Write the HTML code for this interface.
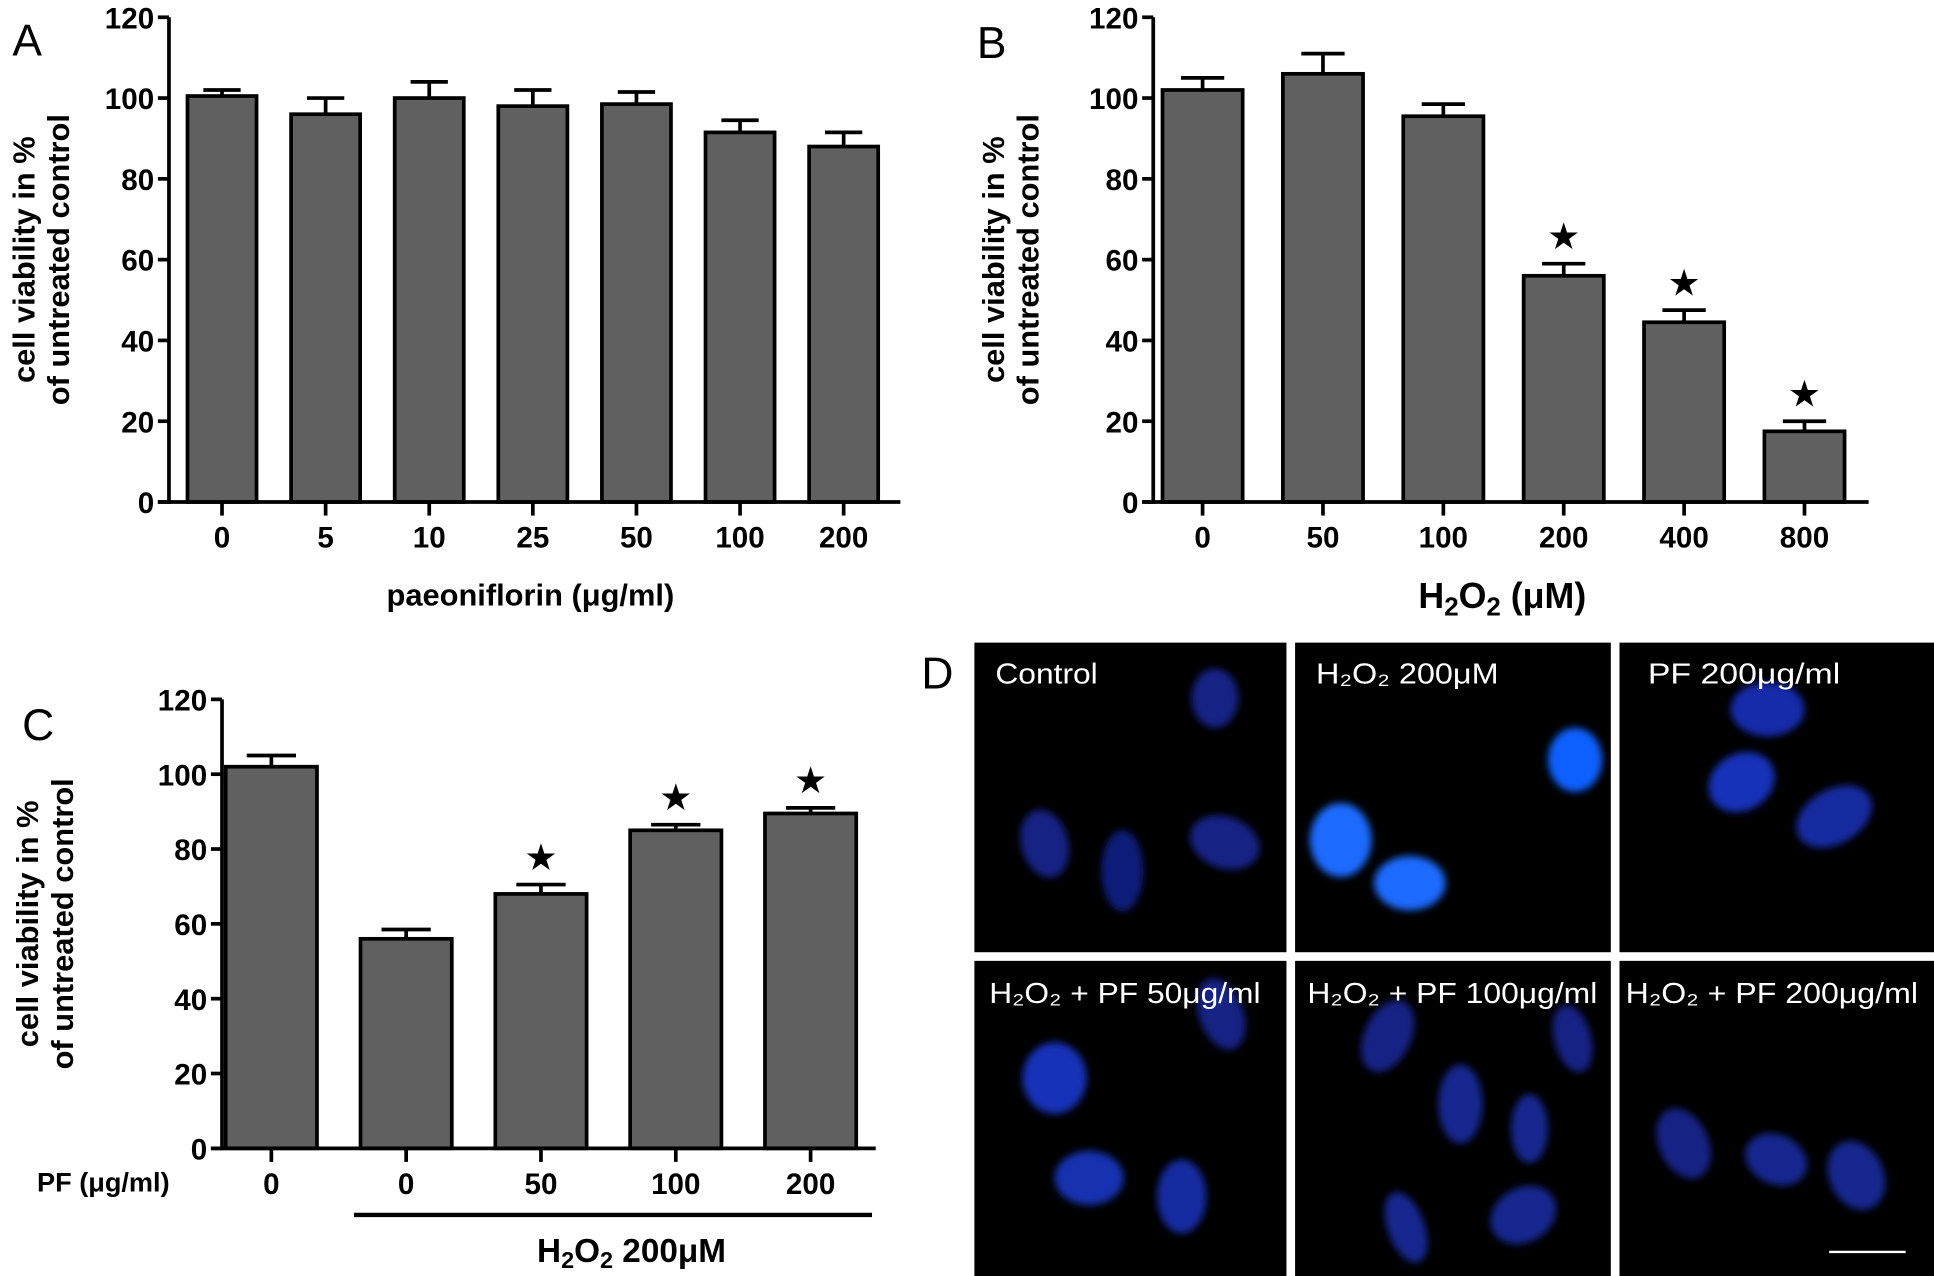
<!DOCTYPE html>
<html><head><meta charset="utf-8"><style>
html,body{margin:0;padding:0;background:#fff;}
svg{display:block;}
text{font-family:"Liberation Sans",sans-serif;}
.tk{font-weight:bold;font-size:24px;}
.yl{font-weight:bold;font-size:25px;}
.pl{font-size:36px;}
.im{fill:#fff;font-size:23px;}
</style></head><body>
<svg id="fig" width="1934" height="1276" viewBox="0 0 1568 1034.5" preserveAspectRatio="none" xmlns="http://www.w3.org/2000/svg">
<defs>
<filter id="blur" x="-50%" y="-50%" width="200%" height="200%"><feGaussianBlur stdDeviation="3"/></filter>
</defs>
<g id="charts"></g>
<g id="micro">
<text class="pl" x="747" y="558">D</text>
<rect x="790" y="521" width="253" height="251" fill="#000"/>
<rect x="1050" y="521" width="256" height="251" fill="#000"/>
<rect x="1313" y="521" width="255" height="251" fill="#000"/>
<rect x="790" y="779" width="253" height="256" fill="#000"/>
<rect x="1050" y="779" width="256" height="256" fill="#000"/>
<rect x="1313" y="779" width="255" height="256" fill="#000"/>
<g filter="url(#blur)">
<ellipse cx="985" cy="566" rx="19" ry="24" fill="#132284"/>
<ellipse cx="847" cy="684" rx="19" ry="28" fill="#132284" transform="rotate(-15 847 684)"/>
<ellipse cx="910" cy="706" rx="17" ry="33" fill="#111e78"/>
<ellipse cx="993" cy="683" rx="29" ry="21" fill="#132284" transform="rotate(20 993 683)"/>
<ellipse cx="1277" cy="616" rx="22" ry="26" fill="#1060ff"/>
<ellipse cx="1087" cy="681" rx="25" ry="30" fill="#1a6aff"/>
<ellipse cx="1143" cy="716" rx="29" ry="22" fill="#1a6aff"/>
<ellipse cx="1433" cy="575" rx="30" ry="22" fill="#162caa"/>
<ellipse cx="1412" cy="634" rx="28" ry="23" fill="#1832b8" transform="rotate(-30 1412 634)"/>
<ellipse cx="1487" cy="662" rx="33" ry="22" fill="#142aa0" transform="rotate(-30 1487 662)"/>
<ellipse cx="855" cy="874" rx="26" ry="29" fill="#1832b8"/>
<ellipse cx="990" cy="822" rx="18" ry="30" fill="#132284" transform="rotate(-20 990 822)"/>
<ellipse cx="883" cy="955" rx="28" ry="22" fill="#1730b0"/>
<ellipse cx="958" cy="970" rx="20" ry="30" fill="#142aa0"/>
<ellipse cx="1125" cy="840" rx="19" ry="31" fill="#132284" transform="rotate(25 1125 840)"/>
<ellipse cx="1184" cy="895" rx="18" ry="32" fill="#14268e"/>
<ellipse cx="1240" cy="915" rx="15" ry="28" fill="#14268e"/>
<ellipse cx="1275" cy="842" rx="15" ry="28" fill="#132284" transform="rotate(-15 1275 842)"/>
<ellipse cx="1140" cy="995" rx="15" ry="30" fill="#14268e" transform="rotate(-20 1140 995)"/>
<ellipse cx="1235" cy="985" rx="28" ry="22" fill="#14268e" transform="rotate(-30 1235 985)"/>
<ellipse cx="1365" cy="927" rx="20" ry="30" fill="#132284" transform="rotate(-25 1365 927)"/>
<ellipse cx="1440" cy="940" rx="26" ry="20" fill="#14268e" transform="rotate(25 1440 940)"/>
<ellipse cx="1505" cy="953" rx="22" ry="29" fill="#14268e" transform="rotate(-25 1505 953)"/>
</g>
<text class="im" x="807" y="554" textLength="83" lengthAdjust="spacingAndGlyphs">Control</text>
<text class="im" x="1067" y="554" textLength="148" lengthAdjust="spacingAndGlyphs">H₂O₂ 200μM</text>
<text class="im" x="1336" y="554" textLength="156" lengthAdjust="spacingAndGlyphs">PF  200μg/ml</text>
<text class="im" x="802" y="813" textLength="220" lengthAdjust="spacingAndGlyphs">H₂O₂ + PF 50μg/ml</text>
<text class="im" x="1060" y="813" textLength="235" lengthAdjust="spacingAndGlyphs">H₂O₂ + PF 100μg/ml</text>
<text class="im" x="1318" y="813" textLength="237" lengthAdjust="spacingAndGlyphs">H₂O₂ + PF 200μg/ml</text>
<line x1="1483" y1="1015" x2="1545" y2="1015" stroke="#fff" stroke-width="2"/>
</g>
</svg>
<script>
const NS="http://www.w3.org/2000/svg";
const yTicks=[0,20,40,60,80,100,120];
const catsA=["0","5","10","25","50","100","200"];
const valsA=[100.5,96,100,98,98.5,91.5,88];
const errA=[1.5,4,4,4,3,3,3.5];
const starsA=[0,0,0,0,0,0,0];
const catsB=["0","50","100","200","400","800"];
const valsB=[102,106,95.5,56,44.5,17.5];
const errB=[3,5,3,3,3,2.5];
const starsB=[0,0,0,1,1,1];
const catsC=["0","0","50","100","200"];
const valsC=[102,56,68,85,89.5];
const errC=[3,2.5,2.5,1.5,1.5];
const starsC=[0,0,1,1,1];
const root=document.getElementById('charts');
function mk(tag,attrs,parent){const e=document.createElementNS(NS,tag);for(const k in attrs)e.setAttribute(k,attrs[k]);(parent||root).appendChild(e);return e;}
function chart(cfg,cats,vals,errs,stars){
  const g=mk('g',{});
  
  
  const y=v=>cfg.y0-(v/120)*(cfg.y0-cfg.y1);
  const x=i=>cfg.c0+i*cfg.step;
  cats.forEach((c,i)=>{
    const v=vals[i],e=errs[i];
    const ln=mk('line',{x1:x(i),x2:x(i),y1:y(v),y2:y(v+e),stroke:'#000','stroke-width':3},g);
    
    
    const cap=mk('line',{x1:x(i)-cfg.bw*0.27,x2:x(i)+cfg.bw*0.27,y1:y(v+e),y2:y(v+e),stroke:'#000','stroke-width':3},g);
    
    
    const r=mk('rect',{x:x(i)-cfg.bw/2,y:y(v),width:cfg.bw,height:cfg.y0-y(v),fill:'#606060',stroke:'#000','stroke-width':3},g);
    
    
    if(stars[i]){
      const s=mk('text',{x:x(i),y:y(v+e)-12,'text-anchor':'middle','font-size':30,fill:'#000'},g);
      s.textContent='★';
      
      
    }
    const tk=mk('line',{x1:x(i),x2:x(i),y1:cfg.y0,y2:cfg.y0+11,stroke:'#000','stroke-width':3},g);
    
    
    const tl=mk('text',{x:x(i),y:cfg.y0+37,'text-anchor':'middle',class:'tk'},g);
    tl.textContent=c;
    
    
  });
  const ya=mk('line',{x1:cfg.ax,x2:cfg.ax,y1:cfg.y1,y2:cfg.y0+1.5,stroke:'#000','stroke-width':3},g);
  
  
  const xa=mk('line',{x1:cfg.ax-9,x2:cfg.xe,y1:cfg.y0,y2:cfg.y0,stroke:'#000','stroke-width':3},g);
  
  
  yTicks.forEach(t=>{
    const l=mk('line',{x1:cfg.ax-9,x2:cfg.ax,y1:y(t),y2:y(t),stroke:'#000','stroke-width':3},g);
    
    
    const tl=mk('text',{x:cfg.ax-12,y:y(t)+9,'text-anchor':'end',class:'tk'},g);
    tl.textContent=t;
    
    
  });
  const yc=(cfg.y0+cfg.y1)/2;
  const t1=mk('text',{x:0,y:0,'text-anchor':'middle',class:'yl',transform:`translate(${cfg.yl1},${yc}) rotate(-90)`},g);
  t1.textContent='cell viability in %';
  
  
  const t2=mk('text',{x:0,y:0,'text-anchor':'middle',class:'yl',transform:`translate(${cfg.yl1+28},${yc}) rotate(-90)`},g);
  t2.textContent='of untreated control';
  
  
  const pl=mk('text',{x:cfg.px,y:cfg.py,class:'pl'},g);
  pl.textContent=cfg.letter;
  
  
  return g;
}
chart({name:'chart-a',ax:137,y0:407,y1:14,xe:730,c0:180,step:84,bw:56,yl1:28,px:10,py:45,letter:'A'},catsA,valsA,errA,starsA);
chart({name:'chart-b',ax:935,y0:407,y1:14,xe:1515,c0:975,step:97.6,bw:65,yl1:814,px:792,py:47,letter:'B'},catsB,valsB,errB,starsB);
chart({name:'chart-c',ax:180,y0:931,y1:567,xe:710,c0:220,step:109.3,bw:74,yl1:31,px:18,py:600,letter:'C'},catsC,valsC,errC,starsC);
let e;
e=mk('text',{x:430,y:491,'text-anchor':'middle','font-weight':'bold','font-size':25});
e.textContent='paeoniflorin (μg/ml)';


e=mk('text',{x:1218,y:493,'text-anchor':'middle','font-weight':'bold','font-size':29});
e.innerHTML='H<tspan font-size="21" dy="6">2</tspan><tspan dy="-6">O</tspan><tspan font-size="21" dy="6">2</tspan><tspan dy="-6"> (μM)</tspan>';


e=mk('text',{x:30,y:966,'font-weight':'bold','font-size':22});
e.textContent='PF (μg/ml)';


e=mk('line',{x1:287,x2:707,y1:985,y2:985,stroke:'#000','stroke-width':3.5});


e=mk('text',{x:512,y:1023,'text-anchor':'middle','font-weight':'bold','font-size':27});
e.innerHTML='H<tspan font-size="19" dy="5">2</tspan><tspan dy="-5">O</tspan><tspan font-size="19" dy="5">2</tspan><tspan dy="-5"> 200μM</tspan>';


</script>
</body></html>
